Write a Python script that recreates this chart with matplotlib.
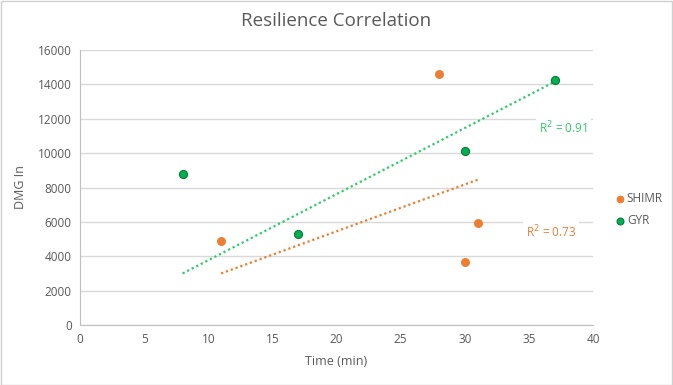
import matplotlib.pyplot as plt
from matplotlib.patches import Rectangle

# data
shimr_x = [11, 28, 30, 31]
shimr_y = [4900, 14600, 3650, 5950]
gyr_x = [8, 17, 30, 37]
gyr_y = [8800, 5300, 10100, 14250]

# trendlines as drawn in the original (endpoints)
shimr_trend_x = [11, 31]
shimr_trend_y = [3000, 8450]
gyr_trend_x = [8, 37]
gyr_trend_y = [3000, 14150]

x_ticks = [0, 5, 10, 15, 20, 25, 30, 35, 40]
y_ticks = [0, 2000, 4000, 6000, 8000, 10000, 12000, 14000, 16000]

ORANGE = "#ED7D31"
GREEN = "#00B050"
GREEN_EDGE = "#0B7A35"
TEXT = "#595959"
GRID = "#D9D9D9"

plt.rcParams['font.family'] = ['Open Sans', 'DejaVu Sans']

fig = plt.figure(figsize=(6.73, 3.85), dpi=100)
fig.patches.append(Rectangle((0.001, 0.001), 0.997, 0.996, transform=fig.transFigure,
                             fill=False, edgecolor="#D0D0D0", lw=1))
ax = fig.add_axes([0.1189, 0.1558, 0.7622, 0.7143])

ax.plot(gyr_trend_x, gyr_trend_y, ls=(0, (1, 1.3)), lw=1.6, color="#2ECC6A", zorder=2)
ax.plot(shimr_trend_x, shimr_trend_y, ls=(0, (1, 1.3)), lw=1.6, color=ORANGE, zorder=2)

ax.scatter(shimr_x, shimr_y, s=34, color=ORANGE, edgecolor=ORANGE, lw=0.6, zorder=3, label="SHIMR")
ax.scatter(gyr_x, gyr_y, s=34, color=GREEN, edgecolor=GREEN_EDGE, lw=0.8, zorder=3, label="GYR")

ax.set_xlim(0, 40)
ax.set_ylim(0, 16000)
ax.set_xticks(x_ticks)
ax.set_yticks(y_ticks)
ax.tick_params(length=0, labelsize=8.5, labelcolor=TEXT, pad=6)
ax.grid(axis="y", color=GRID, lw=1)
ax.set_axisbelow(True)
for s in ["top", "right"]:
    ax.spines[s].set_visible(False)
for s in ["left", "bottom"]:
    ax.spines[s].set_color("#BFBFBF")

ax.set_xlabel("Time (min)", fontsize=9, color=TEXT, labelpad=6)
ax.set_ylabel("DMG In", fontsize=9, color=TEXT, labelpad=8)
fig.text(0.5, 0.945, "Resilience Correlation", ha="center", va="center",
         fontsize=13.5, color=TEXT)

box = dict(facecolor="white", edgecolor="none", pad=2)
ax.text(39.6, 11460, "R$^2$ = 0.91", color="#2ECC6A", fontsize=8.5, ha="right", va="center", bbox=box)
ax.text(38.7, 5410, "R$^2$ = 0.73", color=ORANGE, fontsize=8.5, ha="right", va="center", bbox=box)

ax.legend(loc="center left", bbox_to_anchor=(1.02, 0.42), frameon=False, fontsize=8.5,
          labelcolor=TEXT, handletextpad=0.1, markerscale=0.85, borderaxespad=0.5,
          handlelength=1.0, labelspacing=0.7)

fig.savefig("out.png", dpi=100)
